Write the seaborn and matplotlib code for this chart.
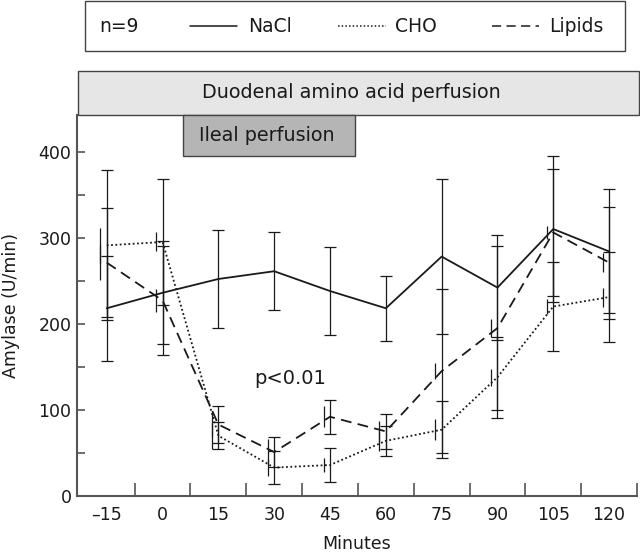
import numpy as np
import pandas as pd
import seaborn as sns
import matplotlib
matplotlib.use("Agg")
import matplotlib.pyplot as plt
from matplotlib.patches import Rectangle
from matplotlib.lines import Line2D
import matplotlib.transforms as mtransforms

minutes = [-15, 0, 15, 30, 45, 60, 75, 90, 105, 120]
nacl = [218, 236, 252, 261, 238, 218, 278, 242, 310, 284]
nacl_err = [61, 60, 57, 45, 51, 38, 90, 61, 85, 72]
cho = [291, 295, 70, 33, 36, 64, 77, 138, 220, 231]
cho_err = [87, 73, 16, 19, 20, 17, 33, 47, 52, 52]
cho_inner = [20, 11, 15, 10, 8, 12, 12, 10, 9, 11]
lipids = [271, 227, 83, 51, 92, 75, 145, 195, 306, 271]
lipids_err = [63, 63, 22, 17, 20, 20, 95, 95, 74, 65]
lipids_inner = [20, 13, 15, 15, 12, 12, 9, 10, 7, 11]
series_names = ["NaCl", "CHO", "Lipids"]
x_ticklabels = ["\u201315", "0", "15", "30", "45", "60", "75", "90", "105", "120"]

sns.set_style("white")
plt.rcParams["font.family"] = ["DejaVu Sans"]
FS = 12.5
FS_BOX = 13.8
FS_LEG = 13.5
INK = "#1a1a1a"
SPINE = "#555555"

fig = plt.figure(figsize=(6.4, 5.52), dpi=100)
ax = fig.add_axes([77/640, 56/552, (637-77)/640, (496-114.5)/552])

df = pd.DataFrame({
    "minutes": minutes * 3,
    "amylase": nacl + cho + lipids,
    "group": ["NaCl"] * 10 + ["CHO"] * 10 + ["Lipids"] * 10,
})
styles = {"NaCl": "-", "CHO": (0, (1, 1.4)), "Lipids": (0, (6, 3.5))}
for name in series_names:
    sub = df[df["group"] == name]
    sns.lineplot(data=sub, x="minutes", y="amylase", ax=ax, color=INK,
                 linewidth=1.3, linestyle=styles[name], legend=False)

for vals, err in [(nacl, nacl_err), (cho, cho_err), (lipids, lipids_err)]:
    ax.errorbar(minutes, vals, yerr=err, fmt="none", ecolor=INK,
                elinewidth=0.9, capsize=4, capthick=0.9)

off = mtransforms.ScaledTranslation(-0.065, 0, fig.dpi_scale_trans)
for vals, err in [(cho, cho_inner), (lipids, lipids_inner)]:
    ax.errorbar(minutes, vals, yerr=err, fmt="none", ecolor=INK,
                elinewidth=0.9, capsize=0, transform=ax.transData + off)

ax.set_xlim(-23, 127.5)
ax.set_ylim(0, 443)
for s in ["top", "right"]:
    ax.spines[s].set_visible(False)
for s in ["left", "bottom"]:
    ax.spines[s].set_color(SPINE)
    ax.spines[s].set_linewidth(1.5)

ax.set_xticks(np.arange(-7.5, 128, 15))
ax.set_xticklabels([])
ax.set_xticks(minutes, minor=True)
ax.set_xticklabels(x_ticklabels, minor=True)
ax.tick_params(axis="x", which="major", direction="in", length=9.5, width=1.2,
               color=SPINE, bottom=True)
ax.tick_params(axis="x", which="minor", length=0, pad=7.5, labelsize=FS,
               labelcolor=INK)

ax.set_yticks([0, 100, 200, 300, 400])
ax.set_yticks([50, 150, 250, 350], minor=True)
ax.tick_params(axis="y", which="both", direction="in", length=6, width=1.2,
               color=SPINE, left=True, labelsize=FS, labelcolor=INK, pad=4)

ax.set_xlabel("Minutes", fontsize=FS, color=INK, labelpad=7.5)
ax.set_ylabel("Amylase (U/min)", fontsize=FS, color=INK, labelpad=13)

ax.text(34.3, 137, "p<0.01", fontsize=14, color=INK, ha="center", va="center")

# perfusion boxes
ax.add_patch(Rectangle((-22.8, 443), 150.8, 51, facecolor="#e6e6e6",
                       edgecolor="#444444", linewidth=1.0, clip_on=False, zorder=3))
ax.text(50.7, 468.5, "Duodenal amino acid perfusion", fontsize=FS_BOX, color=INK,
        ha="center", va="center", zorder=4, clip_on=False)
ax.add_patch(Rectangle((5.6, 395), 46.1, 48, facecolor="#b5b5b5",
                       edgecolor="#444444", linewidth=1.0, clip_on=False, zorder=3))
ax.text(28.1, 419, "Ileal perfusion", fontsize=FS_BOX, color=INK,
        ha="center", va="center", zorder=4)

# legend box (figure coords)
def fx(px):
    return px / 640

def fy(py):
    return 1 - py / 552

fig.patches.append(Rectangle((fx(84.5), fy(51)), fx(625) - fx(84.5), fy(1) - fy(51),
                             transform=fig.transFigure, facecolor="white",
                             edgecolor="#444444", linewidth=1.0))
ly = fy(26)
fig.text(fx(99), ly, "n=9", fontsize=FS_LEG, color=INK, va="center", ha="left")
legend_items = [("NaCl", 190, 236.5, 248), ("CHO", 338, 385.6, 395.5),
                ("Lipids", 492, 539, 549)]
for name, x0, x1, tx in legend_items:
    fig.lines.append(Line2D([fx(x0), fx(x1)], [ly, ly], transform=fig.transFigure,
                            color=INK, linewidth=1.1, linestyle=styles[name]))
    fig.text(fx(tx), ly, name, fontsize=FS_LEG, color=INK, va="center", ha="left")

fig.savefig("out.png", dpi=100)
